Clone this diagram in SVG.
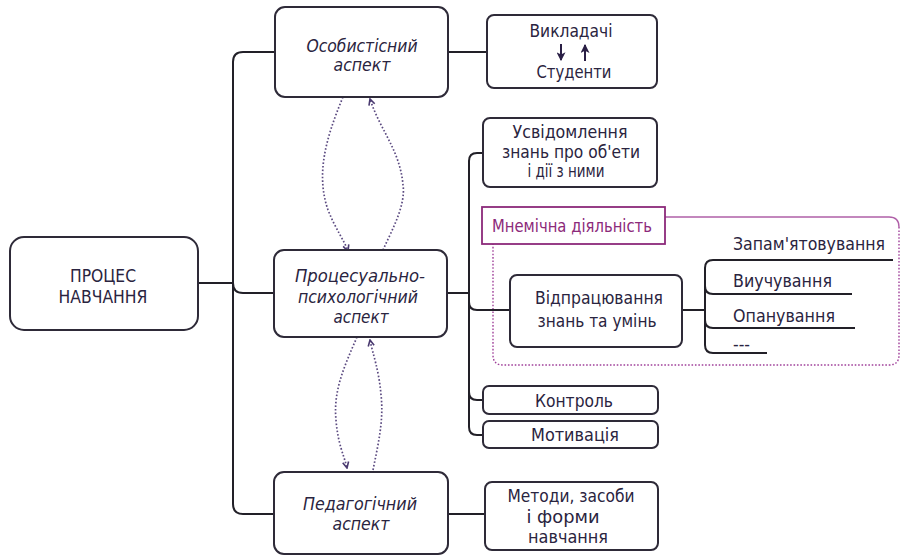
<svg xmlns="http://www.w3.org/2000/svg" width="901" height="559" viewBox="0 0 901 559">
<style>
.box{fill:#fff;stroke:#2e2a38;stroke-width:2}
.ln{fill:none;stroke:#222028;stroke-width:2}
.t{font-family:"DejaVu Sans Condensed","Roboto","Liberation Sans",sans-serif;font-size:17px;fill:#2a2440}
.i{font-style:italic}
.m{fill:#8c2a7a}
.dot{fill:none;stroke:#5b4a80;stroke-width:1.7;stroke-dasharray:1.6 2}
.mn{fill:none;stroke:#a0409a;stroke-width:1.4;stroke-dasharray:1.6 1.8}
</style>
<defs>
<marker id="open" viewBox="0 0 8 8" refX="7" refY="4" markerWidth="8" markerHeight="8" markerUnits="userSpaceOnUse" orient="auto">
<path d="M1,1 L7,4 L1,7" fill="none" stroke="#4a3a70" stroke-width="1.6"/>
</marker>
<marker id="solid" viewBox="0 0 8 8" refX="7" refY="4" markerWidth="9" markerHeight="9" markerUnits="userSpaceOnUse" orient="auto">
<path d="M0,0 L8,4 L0,8 L2,4 Z" fill="#2a1f45"/>
</marker>
</defs>

<g id="mnemic-area">
<path d="M665,217 H889 Q899,217 899,227" fill="none" stroke="#b060a8" stroke-width="1.4"/>
<path class="mn" d="M899,227 V355 Q899,365 889,365 H503 Q493,365 493,355 V244"/>
</g>

<g id="connectors">
<path class="ln" d="M198,283 H233"/>
<path class="ln" d="M275,52 H243 Q233,52 233,62 V504 Q233,514 243,514 H275"/>
<path class="ln" d="M233,283 Q233,293 243,293 H275"/>
<path class="ln" d="M448,52 H487"/>
<path class="ln" d="M448,514 H485"/>
<path class="ln" d="M447,293 H469"/>
<path class="ln" d="M483,153 H477 Q469,153 469,161 V427 Q469,435 477,435 H483"/>
<path class="ln" d="M469,302 Q469,310 477,310 H510"/>
<path class="ln" d="M469,392 Q469,400 477,400 H483"/>
<path class="ln" d="M682,310 H705"/>
<path class="ln" d="M893,260 H713 Q705,260 705,268 V345 Q705,353 713,353 H767"/>
<path class="ln" d="M705,286 Q705,294 713,294 H852"/>
<path class="ln" d="M705,320 Q705,328 713,328 H855"/>
<path class="dot" marker-end="url(#open)" d="M343,97 C325,140 316,175 328,210 C336,230 344,240 348,251"/>
<path class="dot" marker-end="url(#open)" d="M383,250 C392,230 406,205 403,185 C400,150 380,130 370,99"/>
<path class="dot" marker-end="url(#open)" d="M357,337 C345,365 333,390 336,420 C338,445 344,455 347,468"/>
<path class="dot" marker-end="url(#open)" d="M373,470 C378,445 384,420 381,395 C379,370 373,355 370,340"/>
</g>

<g id="process">
<rect class="box" x="10" y="237" width="188" height="93" rx="14"/>
<text class="t" x="103" y="282" text-anchor="middle" textLength="66" lengthAdjust="spacingAndGlyphs">ПРОЦЕС</text>
<text class="t" x="103" y="303" text-anchor="middle" textLength="89" lengthAdjust="spacingAndGlyphs">НАВЧАННЯ</text>
</g>

<g id="personal">
<rect class="box" x="275" y="7" width="173" height="90" rx="10"/>
<text class="t i" x="362" y="52" text-anchor="middle" textLength="111" lengthAdjust="spacingAndGlyphs">Особистісний</text>
<text class="t i" x="362" y="71" text-anchor="middle" textLength="57" lengthAdjust="spacingAndGlyphs">аспект</text>
</g>

<g id="teachers">
<rect class="box" x="487" y="15" width="170" height="73" rx="7"/>
<text class="t" x="571" y="37" text-anchor="middle" textLength="83" lengthAdjust="spacingAndGlyphs">Викладачі</text>
<path d="M561,44 V60" stroke="#2a1f45" stroke-width="2" marker-end="url(#solid)"/>
<path d="M585,61 V45" stroke="#2a1f45" stroke-width="2" marker-end="url(#solid)"/>
<text class="t" x="574" y="78" text-anchor="middle" textLength="75" lengthAdjust="spacingAndGlyphs">Студенти</text>
</g>

<g id="awareness">
<rect class="box" x="483" y="118" width="174" height="69" rx="7"/>
<text class="t" x="570" y="138" text-anchor="middle" textLength="115" lengthAdjust="spacingAndGlyphs">Усвідомлення</text>
<text class="t" x="571" y="158" text-anchor="middle" textLength="138" lengthAdjust="spacingAndGlyphs">знань про об'ети</text>
<text class="t" x="566" y="177" text-anchor="middle" textLength="77" lengthAdjust="spacingAndGlyphs">і дії з ними</text>
</g>

<g id="mnemic-label">
<rect x="482" y="207" width="183" height="37" fill="#fff" stroke="#8c2a7a" stroke-width="1.8"/>
<text class="t m" x="492" y="232" textLength="160" lengthAdjust="spacingAndGlyphs">Мнемічна діяльність</text>
</g>

<g id="procedural">
<rect class="box" x="274" y="250" width="173" height="87" rx="10"/>
<text class="t i" x="360" y="282" text-anchor="middle" textLength="130" lengthAdjust="spacingAndGlyphs">Процесуально-</text>
<text class="t i" x="358" y="303" text-anchor="middle" textLength="120" lengthAdjust="spacingAndGlyphs">психологічний</text>
<text class="t i" x="361" y="323" text-anchor="middle" textLength="55" lengthAdjust="spacingAndGlyphs">аспект</text>
</g>

<g id="practice">
<rect class="box" x="510" y="275" width="172" height="72" rx="7"/>
<text class="t" x="599" y="304" text-anchor="middle" textLength="128" lengthAdjust="spacingAndGlyphs">Відпрацювання</text>
<text class="t" x="597" y="327" text-anchor="middle" textLength="119" lengthAdjust="spacingAndGlyphs">знань та умінь</text>
</g>

<g id="memorizing">
<text class="t" x="733" y="250" textLength="152" lengthAdjust="spacingAndGlyphs">Запам'ятовування</text>
</g>
<g id="learning">
<text class="t" x="733" y="287" textLength="99" lengthAdjust="spacingAndGlyphs">Виучування</text>
</g>
<g id="mastering">
<text class="t" x="733" y="322" textLength="102" lengthAdjust="spacingAndGlyphs">Опанування</text>
</g>
<g id="etc">
<text class="t" x="733" y="350" textLength="17" lengthAdjust="spacingAndGlyphs">---</text>
</g>

<g id="control">
<rect class="box" x="483" y="386" width="175" height="28" rx="6"/>
<text class="t" x="574" y="407" text-anchor="middle" textLength="78" lengthAdjust="spacingAndGlyphs">Контроль</text>
</g>

<g id="motivation">
<rect class="box" x="483" y="421" width="175" height="27" rx="6"/>
<text class="t" x="575" y="441" text-anchor="middle" textLength="88" lengthAdjust="spacingAndGlyphs">Мотивація</text>
</g>

<g id="pedagogical">
<rect class="box" x="274" y="472" width="174" height="82" rx="10"/>
<text class="t i" x="360" y="510" text-anchor="middle" textLength="114" lengthAdjust="spacingAndGlyphs">Педагогічний</text>
<text class="t i" x="361" y="530" text-anchor="middle" textLength="57" lengthAdjust="spacingAndGlyphs">аспект</text>
</g>

<g id="methods">
<rect class="box" x="485" y="482" width="173" height="68" rx="7"/>
<text class="t" x="571" y="502" text-anchor="middle" textLength="127" lengthAdjust="spacingAndGlyphs">Методи, засоби</text>
<text class="t" x="563" y="523" text-anchor="middle" textLength="73" lengthAdjust="spacingAndGlyphs">і форми</text>
<text class="t" x="568" y="543" text-anchor="middle" textLength="80" lengthAdjust="spacingAndGlyphs">навчання</text>
</g>
</svg>
